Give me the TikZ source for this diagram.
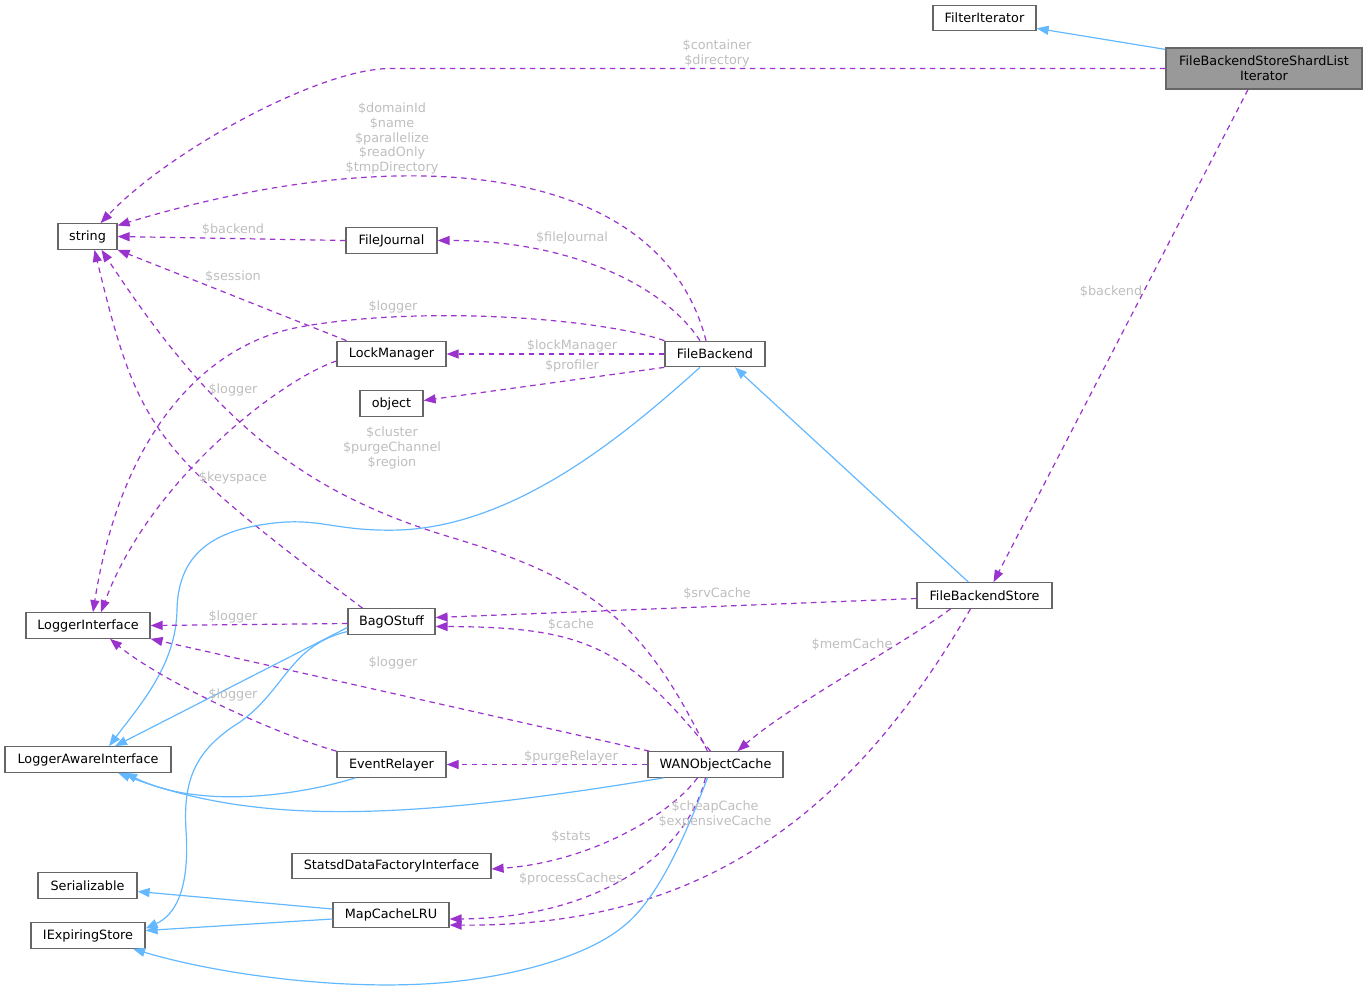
\documentclass[tikz,border=0pt]{standalone}
\usepackage{fontspec}
\setmainfont{DejaVu Sans}
\usepackage{tikz}
\usetikzlibrary{arrows.meta}
\definecolor{usecol}{HTML}{9A32CD}
\definecolor{inhcol}{HTML}{63B8FF}
\definecolor{framecol}{HTML}{666666}
\definecolor{maingray}{HTML}{999999}
\definecolor{labelcol}{HTML}{BEBEBE}

\begin{document}
\begin{tikzpicture}[x=1pt, y=-1pt,
    cls/.style={draw=framecol, line width=1.2pt, fill=white, minimum height=25.5pt, inner sep=2pt,
      font=\fontsize{12.8}{14.7}\selectfont},
    lbl/.style={text=labelcol, inner sep=0pt, align=center, font=\fontsize{12.8}{14.7}\selectfont},
    use/.style={draw=usecol, line width=1.2pt, dash pattern=on 5.5pt off 4.5pt,
      -{Triangle[length=12pt,width=9pt]}},
    inh/.style={draw=inhcol, line width=1.2pt, -{Triangle[length=12pt,width=9pt]}}]
  \useasboundingbox (0,0) rectangle (1367,991);

  \node[cls, minimum width=103pt] (filteriter) at (984.5,18) {FilterIterator};
  \node[cls, fill=maingray, minimum width=196pt, minimum height=41pt, align=center] (shardlist) at (1264,68.5) {FileBackendStoreShardList\\Iterator};
  \node[cls, minimum width=59pt] (string) at (87.5,236.5) {string};
  \node[cls, minimum width=91pt] (filejournal) at (391.5,240.5) {FileJournal};
  \node[cls, minimum width=109pt] (lockmanager) at (391.5,354) {LockManager};
  \node[cls, minimum width=63pt] (object) at (391.5,403.5) {object};
  \node[cls, minimum width=100pt] (filebackend) at (715,354) {FileBackend};
  \node[cls, minimum width=135pt] (fbstore) at (984.5,595.5) {FileBackendStore};
  \node[cls, minimum width=124pt] (loggeriface) at (88,625.5) {LoggerInterface};
  \node[cls, minimum width=87pt] (bagostuff) at (391.5,621.5) {BagOStuff};
  \node[cls, minimum width=166pt] (loggeraware) at (88,759.5) {LoggerAwareInterface};
  \node[cls, minimum width=109pt] (eventrelayer) at (391.5,764.5) {EventRelayer};
  \node[cls, minimum width=135pt] (wancache) at (715.5,764.5) {WANObjectCache};
  \node[cls, minimum width=199pt] (statsd) at (391.5,866) {StatsdDataFactoryInterface};
  \node[cls, minimum width=99pt] (serializable) at (87.5,885.5) {Serializable};
  \node[cls, minimum width=116pt] (mapcache) at (391,915) {MapCacheLRU};
  \node[cls, minimum width=114pt] (iexpiring) at (88,935.5) {IExpiringStore};

  \draw[inh] ([yshift=-2pt]shardlist.north west) -- ([yshift=3pt]filteriter.south east);
  \draw[use] (shardlist.west) -- (390,68.5) .. controls (320,68.5) and (170,150) .. ([xshift=13pt]string.north);
  \draw[use] ([xshift=-16pt]shardlist.south) -- ([xshift=9pt]fbstore.north);

  \draw[use] ([xshift=-9pt]filebackend.north) .. controls (660,160) and (400,140) .. ([yshift=11pt]string.east);
  \draw[use] ([xshift=-15pt]filebackend.north) .. controls (660,280) and (560,240) .. (filejournal.east);
  \draw[use] (filejournal.west) -- (string.east);
  \draw[use] ([xshift=-45pt]lockmanager.north) -- (string.south east);
  \draw[use] (filebackend.north west) .. controls (600,318) and (420,305) .. (300,327)
    .. controls (200,345) and (120,440) .. ([xshift=5pt]loggeriface.north);
  \draw[use] (filebackend.west) -- (lockmanager.east);
  \draw[use] (filebackend.south west) -- ([yshift=3pt]object.east);
  \draw[use] ([yshift=-7pt]lockmanager.west) .. controls (280,380) and (150,480) .. ([xshift=13pt]loggeriface.north);
  \draw[use] ([xshift=-29pt]bagostuff.north) .. controls (152.5,450) and (139,433) .. ([xshift=7pt]string.south);
  \draw[use] ([xshift=-8pt]wancache.north) .. controls (645,623) and (594,580) .. (450,537)
    .. controls (301,492) and (213.75,420.75) .. ([xshift=14pt]string.south);

  \draw[inh] ([xshift=-15pt]filebackend.south) .. controls (630,430) and (520,525) .. (400,530)
    .. controls (330,532) and (320,515) .. (260,525)
    .. controls (200,535) and (178,565) .. (177,610)
    .. controls (176,665) and (140,705) .. ([xshift=21pt]loggeraware.north);
  \draw[inh] ([xshift=-16pt]fbstore.north) -- ([xshift=20pt]filebackend.south);

  \draw[use] ([yshift=-3pt]fbstore.west) -- ([yshift=4pt]bagostuff.east);
  \draw[use] ([xshift=-34pt]fbstore.south) .. controls (910,640) and (790,705) .. ([xshift=22pt]wancache.north);
  \draw[use] ([xshift=-14pt]fbstore.south) .. controls (842,831) and (686,927) .. ([yshift=-10pt]mapcache.east);

  \draw[use] ([yshift=-2pt]bagostuff.west) -- (loggeriface.east);
  \draw[use] ([xshift=-5pt]wancache.north) .. controls (625,645.75) and (583.75,627) .. ([yshift=-5pt]bagostuff.east);
  \draw[use] ([xshift=2pt]wancache.north west) -- (loggeriface.south east);
  \draw[use] (eventrelayer.north west) .. controls (270,732) and (160,680) .. ([xshift=22pt]loggeriface.south);
  \draw[use] (wancache.west) -- (eventrelayer.east);
  \draw[inh] ([xshift=-36pt]eventrelayer.south) .. controls (300,795) and (200,810) .. ([xshift=37pt]loggeraware.south);
  \draw[inh] ([xshift=-52pt]wancache.south) .. controls (385.5,824) and (249,822) .. ([xshift=30pt]loggeraware.south);
  \draw[use] ([xshift=-18pt]wancache.south) .. controls (670,815) and (590,862) .. ([yshift=-3pt]statsd.east);
  \draw[use] ([xshift=-10pt]wancache.south) .. controls (685,860) and (590,918) .. ([yshift=-4pt]mapcache.east);
  \draw[inh] ([xshift=-8pt]wancache.south) .. controls (680,850) and (655,900) .. (625,925)
    .. controls (590,955) and (520,975) .. (450,982)
    .. controls (350,992) and (220,975) .. ([xshift=45pt]iexpiring.south);

  \draw[inh] ([yshift=6pt]mapcache.west) -- ([yshift=-6pt]serializable.east);
  \draw[inh] ([yshift=-4pt]mapcache.west) -- ([yshift=5pt]iexpiring.east);
  \draw[inh] ([yshift=-6pt]bagostuff.west) -- ([xshift=27pt]loggeraware.north);
  \draw[inh] ([yshift=-10pt]bagostuff.west) .. controls (290,645) and (285,690) .. (240,722)
    .. controls (195,750) and (183,780) .. (186,830)
    .. controls (190,890) and (175,915) .. ([yshift=7pt]iexpiring.east);

  \node[lbl] (lcontainer) at (717,53.5) {\$container\\\$directory};
  \node[lbl] (lbackenda) at (1111,292) {\$backend};
  \node[lbl] (lfbfields) at (392,138.5) {\$domainId\\\$name\\\$parallelize\\\$readOnly\\\$tmpDirectory};
  \node[lbl] (lfilejournal) at (572,238) {\$fileJournal};
  \node[lbl] (lbackendb) at (233,230) {\$backend};
  \node[lbl] (lsession) at (233,277) {\$session};
  \node[lbl] (lloggera) at (393,307) {\$logger};
  \node[lbl] (llockmanager) at (572,346) {\$lockManager};
  \node[lbl] (lprofiler) at (572,366) {\$profiler};
  \node[lbl] (lloggerb) at (233,390) {\$logger};
  \node[lbl] (lcluster) at (392,448) {\$cluster\\\$purgeChannel\\\$region};
  \node[lbl] (lkeyspace) at (233,478) {\$keyspace};
  \node[lbl] (lsrvcache) at (717,594) {\$srvCache};
  \node[lbl] (lcache) at (571,625) {\$cache};
  \node[lbl] (lmemcache) at (852,645) {\$memCache};
  \node[lbl] (lloggerc) at (233,617) {\$logger};
  \node[lbl] (lloggerd) at (393,663) {\$logger};
  \node[lbl] (lloggere) at (233,695) {\$logger};
  \node[lbl] (lpurge) at (571,757) {\$purgeRelayer};
  \node[lbl] (lcheap) at (715,814.5) {\$cheapCache\\\$expensiveCache};
  \node[lbl] (lstats) at (571,837) {\$stats};
  \node[lbl] (lprocess) at (571,879) {\$processCaches};
\end{tikzpicture}
\end{document}
